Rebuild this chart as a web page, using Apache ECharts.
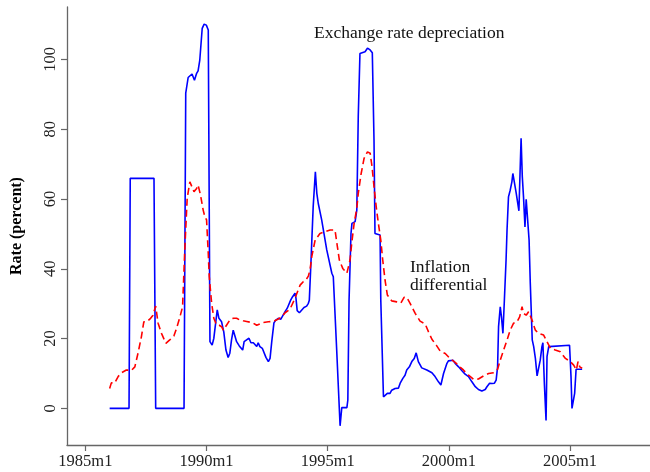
<!DOCTYPE html>
<html>
<head>
<meta charset="utf-8">
<script src="https://cdn.jsdelivr.net/npm/echarts@6/dist/echarts.min.js"></script>
<style>html,body{margin:0;padding:0;background:#fff;}#c{width:650px;height:472px;}</style>
</head>
<body>
<div id="c"></div>
<script>
// Time in decimal years, values in percent
var exDates = [1986.00,1986.80,1986.85,1987.83,1987.90,1989.07,1989.14,1989.24,1989.40,1989.50,1989.59,1989.65,1989.72,1989.82,1989.90,1989.99,1990.07,1990.14,1990.23,1990.30,1990.37,1990.44,1990.51,1990.62,1990.71,1990.80,1990.89,1990.96,1991.03,1991.10,1991.17,1991.24,1991.35,1991.40,1991.49,1991.55,1991.65,1991.75,1991.83,1991.93,1992.00,1992.07,1992.13,1992.20,1992.30,1992.38,1992.45,1992.55,1992.62,1992.69,1992.78,1992.86,1992.96,1993.06,1993.14,1993.24,1993.33,1993.41,1993.47,1993.55,1993.65,1993.69,1993.74,1993.83,1993.93,1994.02,1994.13,1994.20,1994.24,1994.30,1994.40,1994.49,1994.55,1994.61,1994.75,1994.96,1995.17,1995.23,1995.37,1995.51,1995.58,1995.79,1995.83,1995.88,1995.96,1996.00,1996.13,1996.20,1996.26,1996.33,1996.40,1996.54,1996.64,1996.75,1996.84,1996.91,1996.95,1997.02,1997.16,1997.19,1997.30,1997.37,1997.46,1997.57,1997.64,1997.78,1997.92,1997.99,1998.10,1998.19,1998.26,1998.37,1998.47,1998.57,1998.65,1998.74,1998.88,1999.09,1999.30,1999.43,1999.57,1999.67,1999.78,1999.92,1999.98,2000.17,2000.26,2000.40,2000.54,2000.67,2000.81,2000.95,2001.09,2001.22,2001.36,2001.50,2001.57,2001.68,2001.78,2001.88,2001.95,2002.01,2002.05,2002.12,2002.17,2002.23,2002.29,2002.36,2002.40,2002.46,2002.53,2002.60,2002.64,2002.71,2002.78,2002.89,2002.98,2003.03,2003.08,2003.14,2003.19,2003.25,2003.31,2003.36,2003.44,2003.50,2003.57,2003.64,2003.72,2003.77,2003.84,2003.88,2003.94,2004.01,2004.05,2004.12,2004.19,2004.98,2005.04,2005.08,2005.15,2005.19,2005.25,2005.50];
var exValues = [0,0,65.9,65.9,0,0,90.3,94.8,95.8,94.0,96.0,96.7,99.8,108.9,110.1,109.8,108.4,19.1,18.1,20.1,19.8,28.2,25.8,24.8,21.9,16.7,14.6,15.8,19.6,22.4,22.1,19.1,17.9,18.1,16.7,19.1,19.6,20.1,18.8,18.8,18.4,17.7,18.8,17.7,17.2,16.9,14.6,13.4,14.3,19.1,24.5,25.3,25.8,25.5,25.3,27.7,28.7,28.9,31.0,32.0,33.0,31.5,28.0,27.4,28.2,28.9,29.3,30.1,31.0,40.6,57.8,67.8,61.6,58.7,54.0,45.4,38.7,37.7,16.7,-5.0,0.2,0.2,2.4,31.0,50.1,53.0,53.5,56.8,83.6,101.7,102.2,102.2,103.2,102.7,101.9,76.9,50.1,49.7,49.7,31.0,3.3,3.2,4.3,4.3,5.2,5.7,5.8,7.2,8.6,9.5,11.0,11.9,13.4,14.3,15.9,13.4,11.6,11.0,10.2,9.1,7.6,6.7,10.0,12.9,13.6,13.8,12.9,11.9,10.8,9.8,9.1,7.6,6.2,5.4,5.0,5.4,6.2,7.2,7.1,7.2,8.1,11.9,23.4,29.1,26.2,21.5,31.0,42.5,51.1,60.6,62.5,64.9,67.3,67.3,61.6,56.6,77.4,66.4,60.6,52.0,59.9,59.7,48.2,35.8,19.6,17.7,14.3,9.3,9.3,13.8,17.7,18.8,7.2,-3.5,14.8,17.7,18.1,18.1,9.1,0,0,4.3,11.2,11.2];

var infDates = [1986.00,1986.07,1986.21,1986.35,1986.49,1986.69,1986.90,1987.04,1987.17,1987.31,1987.41,1987.55,1987.69,1987.79,1987.90,1988.00,1988.14,1988.32,1988.48,1988.65,1988.76,1988.90,1989.01,1989.10,1989.20,1989.31,1989.38,1989.48,1989.59,1989.65,1989.75,1989.86,1989.93,1990.00,1990.07,1990.11,1990.21,1990.30,1990.41,1990.52,1990.62,1990.69,1990.83,1990.96,1991.10,1991.24,1991.38,1991.51,1991.65,1991.79,1991.93,1992.07,1992.20,1992.33,1992.55,1992.75,1992.96,1993.10,1993.24,1993.44,1993.65,1993.74,1993.86,1993.99,1994.10,1994.20,1994.27,1994.34,1994.48,1994.68,1994.89,1995.10,1995.30,1995.40,1995.48,1995.62,1995.79,1995.92,1995.99,1996.09,1996.20,1996.26,1996.38,1996.50,1996.64,1996.75,1996.83,1996.91,1997.00,1997.09,1997.19,1997.27,1997.37,1997.46,1997.64,1997.85,1998.02,1998.15,1998.26,1998.40,1998.61,1998.81,1999.02,1999.16,1999.30,1999.48,1999.64,1999.85,2000.06,2000.26,2000.40,2000.60,2000.81,2001.02,2001.22,2001.43,2001.64,2001.84,2002.01,2002.12,2002.26,2002.40,2002.53,2002.67,2002.81,2002.92,2003.02,2003.08,2003.19,2003.29,2003.43,2003.57,2003.70,2003.91,2004.05,2004.19,2004.39,2004.60,2004.81,2005.01,2005.15,2005.26,2005.33,2005.40,2005.50];
var infValues = [5.7,7.3,7.3,9.1,10.2,11.0,10.9,11.9,15.8,20.5,24.8,24.9,25.8,26.7,29.3,24.4,21.5,18.6,19.6,20.7,22.9,26.2,29.1,45.4,60.2,64.9,64.8,62.1,63.0,64.0,61.1,56.8,54.9,54.0,44.4,37.7,30.1,25.8,23.9,23.8,23.4,22.4,23.9,25.3,25.8,25.8,25.3,25.1,24.9,24.7,24.4,23.8,24.2,24.6,24.8,24.9,25.6,26.2,27.4,28.4,31.5,33.2,35.3,36.3,36.8,37.9,39.7,43.4,48.2,50.1,50.6,51.1,51.1,46.3,42.5,40.1,38.7,42.5,47.3,53.0,57.3,61.6,67.3,71.6,73.5,73.1,69.2,63.5,57.8,53.0,48.2,42.5,36.5,32.5,30.8,30.5,30.2,31.8,31.8,30.1,27.2,25.0,24.2,21.9,19.8,18.1,16.4,15.7,14.2,13.2,12.2,11.0,9.5,8.3,8.4,9.3,10.0,10.2,11.2,13.8,16.7,19.6,22.4,24.4,24.8,26.2,29.1,27.2,26.7,27.7,25.3,22.4,21.5,21.0,19.1,17.2,16.7,16.2,14.3,13.4,12.4,11.0,13.4,11.9,11.5];

var tickYears = [1985, 1990, 1995, 2000, 2005];
var tickLabels = ['1985m1', '1990m1', '1995m1', '2000m1', '2005m1'];
var yTicks = [0, 20, 40, 60, 80, 100];

function pairs(d, v) { return d.map(function (x, i) { return [x, v[i]]; }); }

var FONT = '"Liberation Serif", "DejaVu Serif", serif';
var chart = echarts.init(document.getElementById('c'), null, { renderer: 'canvas' });
chart.setOption({
  animation: false,
  backgroundColor: '#ffffff',
  grid: { left: 67, right: 0, top: 7, bottom: 27, outerBoundsMode: 'none' },
  xAxis: {
    type: 'value', min: 1984.24, max: 2008.3,
    axisLine: { show: true, onZero: false, lineStyle: { color: '#666', width: 1.3 } },
    axisTick: { show: true, length: 6, customValues: tickYears, lineStyle: { color: '#666', width: 1.2 } },
    axisLabel: { customValues: tickYears, margin: 8, color: '#222', fontFamily: FONT, fontSize: 16.5,
      formatter: function (v) { return tickLabels[tickYears.indexOf(Math.round(v))]; } },
    splitLine: { show: false }
  },
  yAxis: {
    type: 'value', min: -10.5, max: 115,
    name: 'Rate (percent)', nameLocation: 'middle', nameGap: 42,
    nameTextStyle: { fontFamily: FONT, fontSize: 16, fontWeight: 'bold', color: '#000' },
    axisLine: { show: true, onZero: false, lineStyle: { color: '#666', width: 1.3 } },
    axisTick: { show: true, length: 6, customValues: yTicks, lineStyle: { color: '#666', width: 1.2 } },
    axisLabel: { customValues: yTicks, rotate: 90, margin: 8, color: '#222', fontFamily: FONT, fontSize: 16.5 },
    splitLine: { show: false }
  },
  series: [
    { name: 'Exchange rate depreciation', type: 'line', data: pairs(exDates, exValues), showSymbol: false,
      lineStyle: { color: '#0000ff', width: 1.6 }, itemStyle: { color: '#0000ff' }, z: 3 },
    { name: 'Inflation differential', type: 'line', data: pairs(infDates, infValues), showSymbol: false,
      lineStyle: { color: '#ff0000', width: 1.6, type: [7, 4] }, itemStyle: { color: '#ff0000' }, z: 4 }
  ],
  graphic: [
    { type: 'text', left: 314, top: 24, style: { text: 'Exchange rate depreciation', font: '17.5px ' + FONT, fill: '#111' } },
    { type: 'text', left: 410, top: 258, style: { text: 'Inflation', font: '17.5px ' + FONT, fill: '#111' } },
    { type: 'text', left: 410, top: 276, style: { text: 'differential', font: '17.5px ' + FONT, fill: '#111' } }
  ]
});
</script>
</body>
</html>
